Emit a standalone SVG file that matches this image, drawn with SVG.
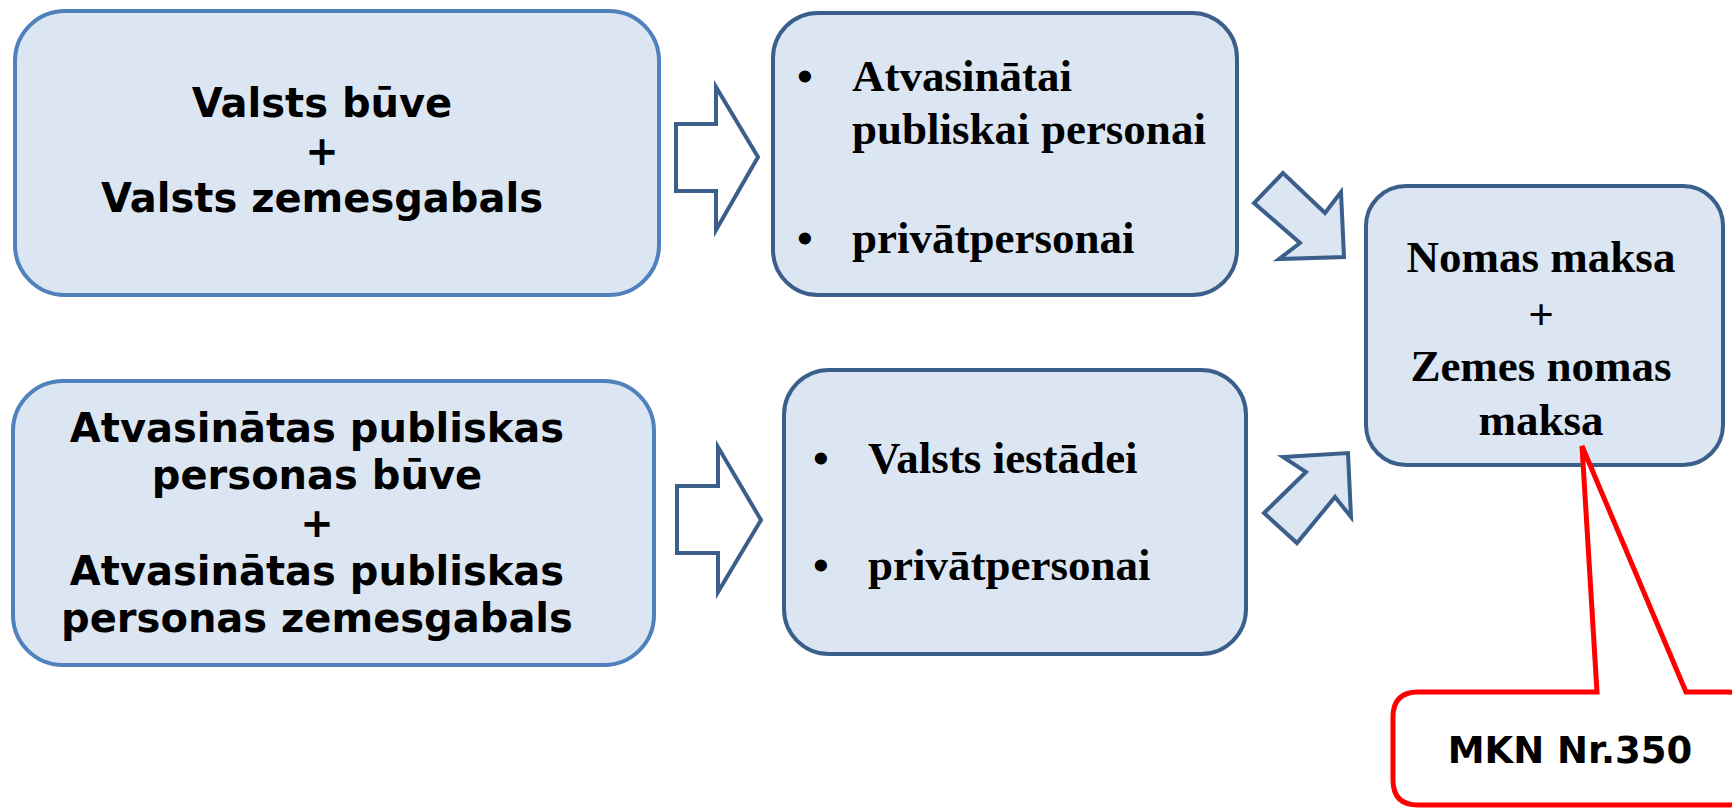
<svg xmlns="http://www.w3.org/2000/svg" width="1732" height="808" viewBox="0 0 1732 808">
<style>
.box{fill:#dce6f2;stroke-width:4}
.lt{stroke:#4f81bd}
.dk{stroke:#3a5f8b}
.arr{stroke:#3a5f8b;stroke-width:4;stroke-linejoin:miter}
.sans{font-family:"DejaVu Sans","Verdana",sans-serif;font-weight:bold;fill:#000}
.serif{font-family:"Liberation Serif","Times New Roman",serif;font-weight:bold;fill:#000}
</style>
<rect width="1732" height="808" fill="#fff"/>
<g id="node-valsts">
<rect class="box lt" x="15" y="11" width="644" height="284" rx="50"/>
<text class="sans" font-size="40" text-anchor="middle" x="322" y="117">Valsts būve</text>
<text class="sans" font-size="40" text-anchor="middle" x="322" y="165">+</text>
<text class="sans" font-size="40" text-anchor="middle" x="322" y="212">Valsts zemesgabals</text>
</g>
<g id="node-atvasinatas">
<rect class="box lt" x="13" y="381" width="641" height="284" rx="50"/>
<text class="sans" font-size="40" text-anchor="middle" x="317" y="442">Atvasinātas publiskas</text>
<text class="sans" font-size="40" text-anchor="middle" x="317" y="489">personas būve</text>
<text class="sans" font-size="40" text-anchor="middle" x="317" y="537">+</text>
<text class="sans" font-size="40" text-anchor="middle" x="317" y="585">Atvasinātas publiskas</text>
<text class="sans" font-size="40" text-anchor="middle" x="317" y="632">personas zemesgabals</text>
</g>
<g id="node-top-mid">
<rect class="box dk" x="773" y="13" width="464" height="282" rx="45"/>
<text class="serif" font-size="45" x="797" y="91">•</text>
<text class="serif" font-size="45" x="852" y="91">Atvasinātai</text>
<text class="serif" font-size="45" x="852" y="144">publiskai personai</text>
<text class="serif" font-size="45" x="797" y="253">•</text>
<text class="serif" font-size="45" x="852" y="253">privātpersonai</text>
</g>
<g id="node-bottom-mid">
<rect class="box dk" x="784" y="370" width="462" height="284" rx="45"/>
<text class="serif" font-size="45" x="813" y="473">•</text>
<text class="serif" font-size="45" x="868" y="473">Valsts iestādei</text>
<text class="serif" font-size="45" x="813" y="580">•</text>
<text class="serif" font-size="45" x="868" y="580">privātpersonai</text>
</g>
<g id="node-nomas">
<rect class="box dk" x="1366" y="186" width="357" height="279" rx="40"/>
<text class="serif" font-size="45" text-anchor="middle" x="1541" y="272">Nomas maksa</text>
<text class="serif" font-size="45" text-anchor="middle" x="1541" y="329">+</text>
<text class="serif" font-size="45" text-anchor="middle" x="1541" y="381">Zemes nomas</text>
<text class="serif" font-size="45" text-anchor="middle" x="1541" y="435">maksa</text>
</g>
<g id="node-mkn">
<path d="M1418,692 L1597,692 L1582,446 L1686,692 L1727,692 Q1752,692 1752,717 L1752,780 Q1752,805 1727,805 L1418,805 Q1393,805 1393,780 L1393,717 Q1393,692 1418,692 Z" fill="#fff" stroke="#ff0000" stroke-width="5" stroke-linejoin="miter"/>
<text class="sans" font-size="37" text-anchor="middle" x="1570" y="763">MKN Nr.350</text>
</g>
<g id="connectors">
<polygon class="arr" fill="#fff" points="676,124 716,124 716,87 758,157 716,230 716,191 676,191"/>
<polygon class="arr" fill="#fff" points="677,486 718,486 718,447 761,520 718,592 718,553 677,553"/>
<polygon class="arr" fill="#dce6f2" points="1283,173 1254,203 1300,243 1279,259 1344,257 1341,192 1325,213"/>
<polygon class="arr" fill="#dce6f2" points="1283,457 1348,453 1351,517 1335,497 1297,543 1264,513 1306,472"/>
</g>
</svg>
